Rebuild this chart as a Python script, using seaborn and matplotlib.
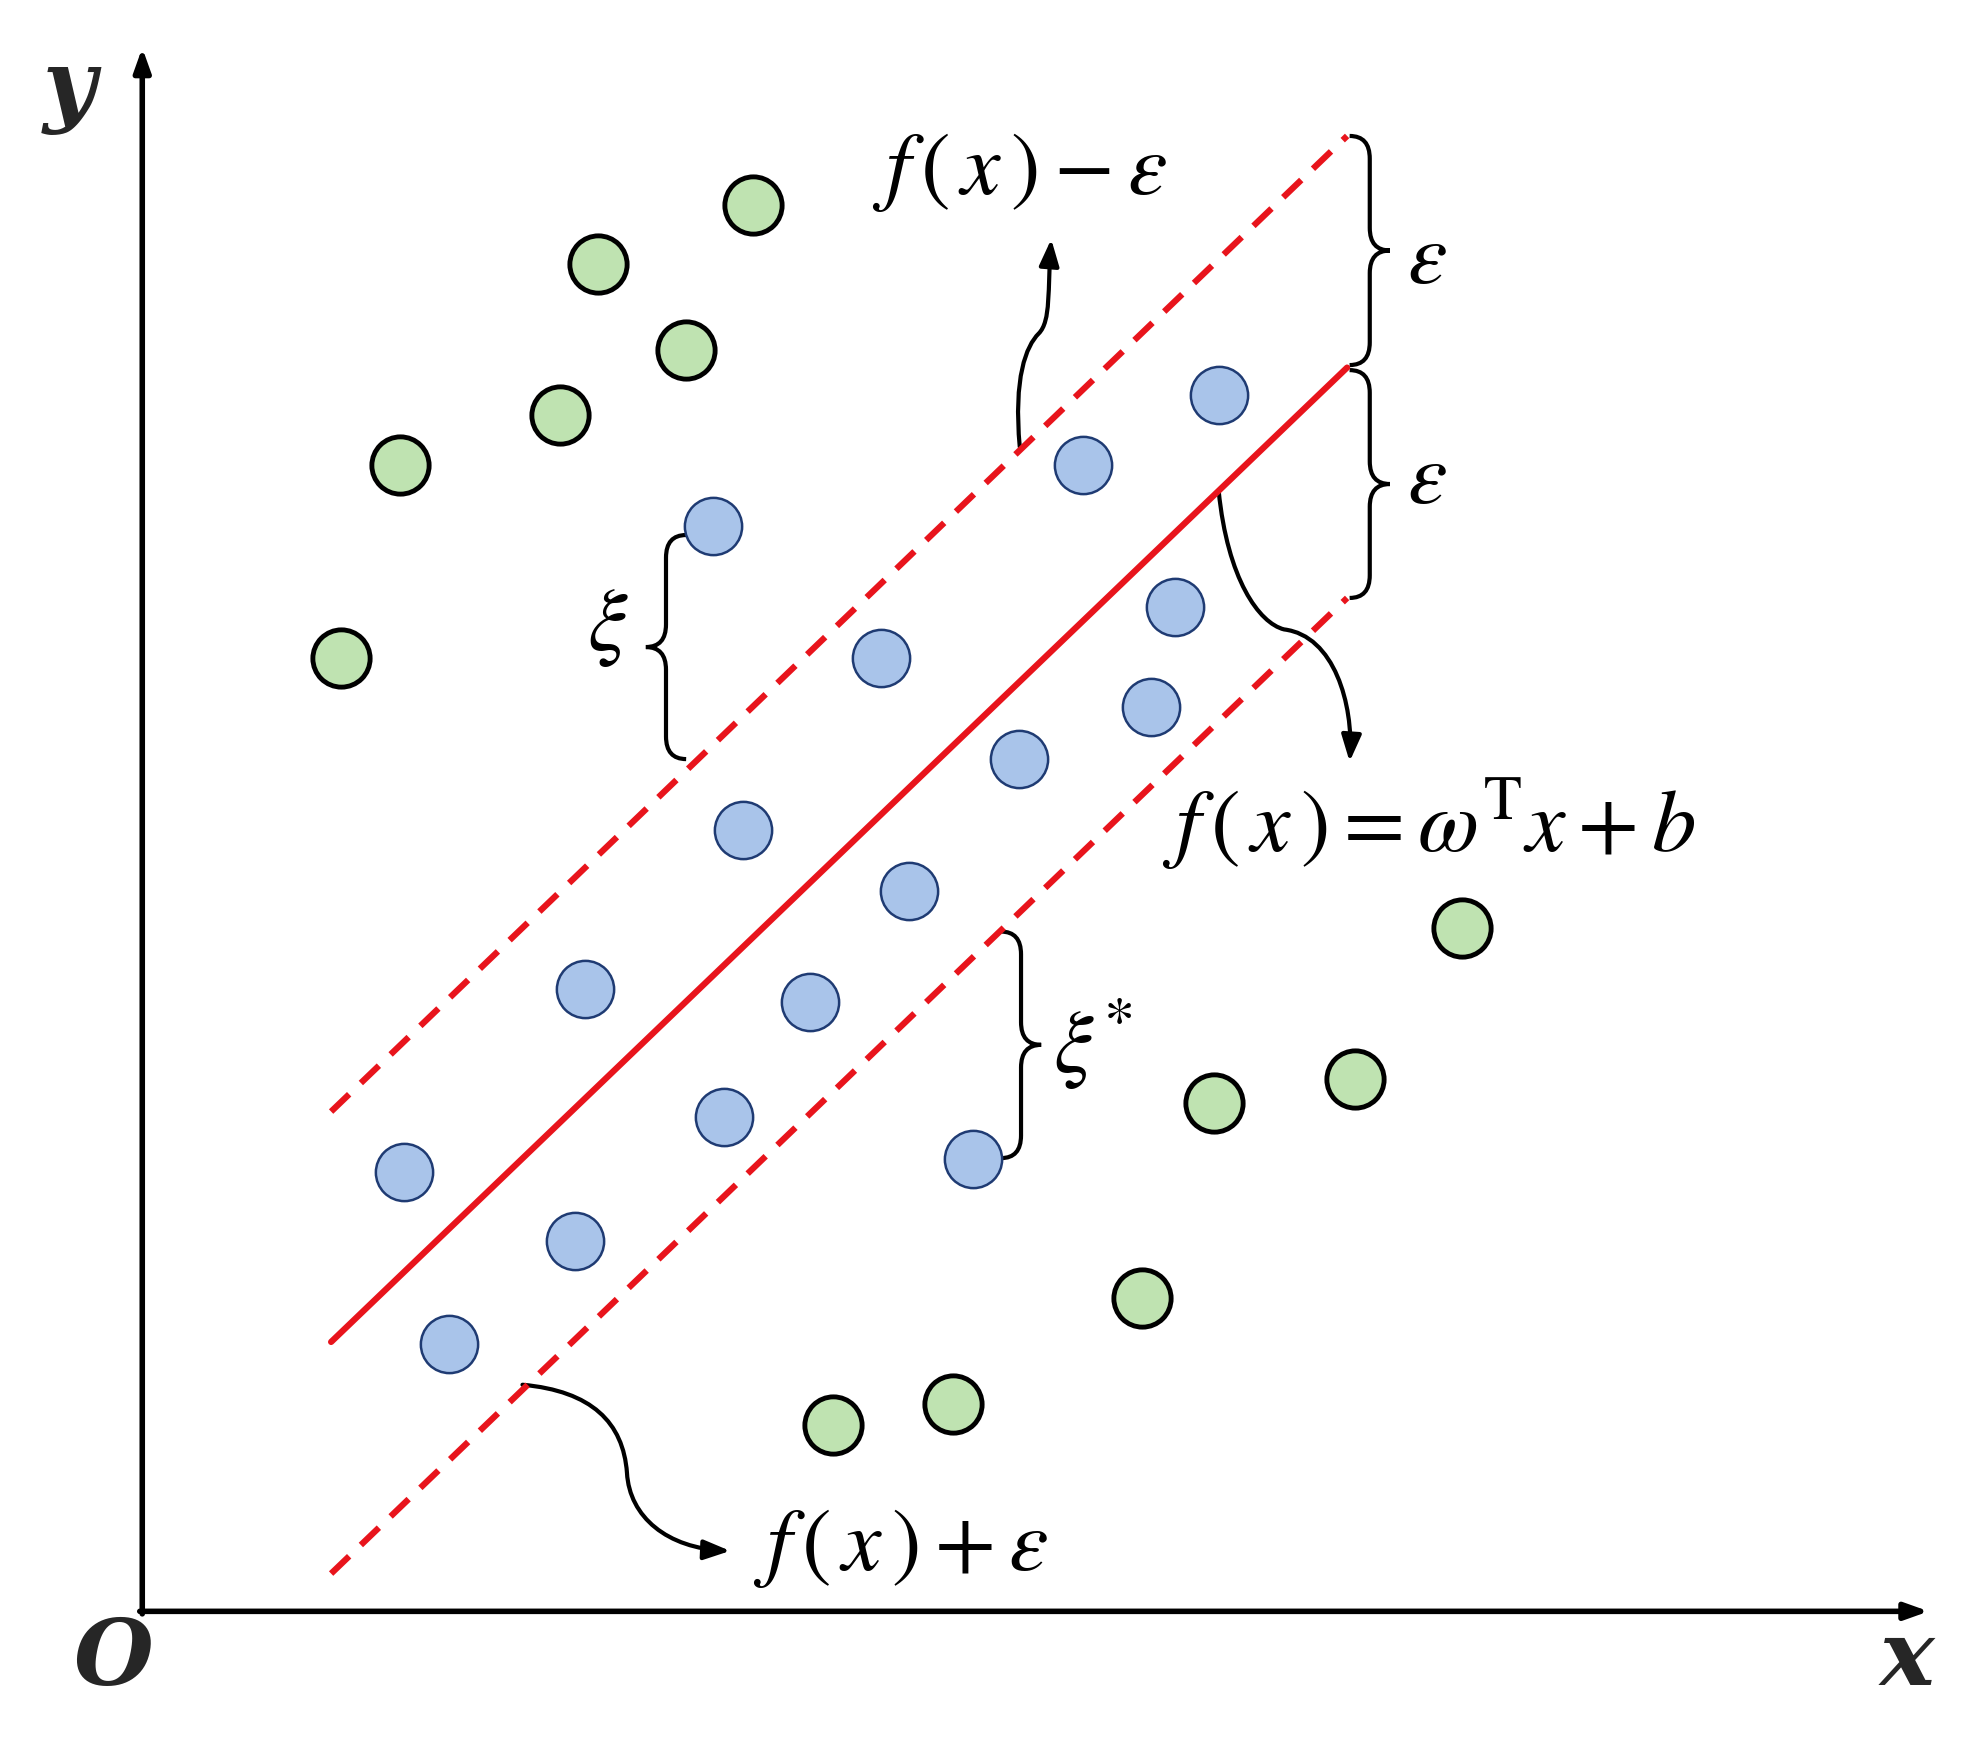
import matplotlib
matplotlib.use("Agg")
import matplotlib.pyplot as plt
import seaborn as sns
import pandas as pd
from matplotlib.path import Path
from matplotlib.patches import FancyArrowPatch, PathPatch

sns.set_style("white")
plt.rcParams['mathtext.fontset'] = 'stix'
plt.rcParams['font.family'] = ['DejaVu Serif']

green_x = [598, 475, 545, 445, 318, 271, 1161, 1076, 964, 907, 757, 662]
green_y = [163, 210, 278, 330, 369, 523, 737, 857, 876, 1031, 1115, 1132]
blue_x = [968, 860, 566, 700, 933, 914, 809, 590, 722, 465, 643, 575, 321, 773, 457, 357]
blue_y = [314, 369, 418, 523, 482, 562, 603, 659, 708, 786, 796, 887, 931, 921, 986, 1068]

line_x = [263, 1070]
mid_y = [1066, 292]
upper_y = [883, 108]
lower_y = [1250, 475]

fig = plt.figure(figsize=(19.64, 17.41), dpi=100)
ax = fig.add_axes([0, 0, 1, 1])

ax.plot(line_x, mid_y, color='#e8141c', lw=4.5)
ax.plot(line_x, upper_y, color='#e8141c', lw=4.5, dashes=(4, 2.6))
ax.plot(line_x, lower_y, color='#e8141c', lw=4.5, dashes=(4, 2.6))

dfg = pd.DataFrame({'x': green_x, 'y': green_y})
dfb = pd.DataFrame({'x': blue_x, 'y': blue_y})
sns.scatterplot(data=dfg, x='x', y='y', ax=ax, s=1700, color='#bfe3b1', edgecolor='black', linewidth=3.5, zorder=3)
sns.scatterplot(data=dfb, x='x', y='y', ax=ax, s=1700, color='#a9c4ea', edgecolor='#1f3b73', linewidth=1.8, zorder=3)
ax.set_xlim(0, 1560)
ax.set_ylim(1383, 0)
ax.axis('off')

ax.annotate('', xy=(113, 38), xytext=(113, 1282), arrowprops=dict(arrowstyle='-|>,head_length=1.4,head_width=0.5', lw=4, color='black', shrinkA=0, shrinkB=0))
ax.annotate('', xy=(1532, 1280), xytext=(111, 1280), arrowprops=dict(arrowstyle='-|>,head_length=1.4,head_width=0.5', lw=4, color='black', shrinkA=0, shrinkB=0))

def brace(x, y0, y1, d, r=18):
    ym = (y0 + y1) / 2
    h = d / 2
    verts = [(x, y0), (x + h, y0), (x + h, y0 + r),
             (x + h, ym - r),
             (x + h, ym), (x + d, ym),
             (x + h, ym), (x + h, ym + r),
             (x + h, y1 - r),
             (x + h, y1), (x, y1)]
    codes = [Path.MOVETO, Path.CURVE3, Path.CURVE3, Path.LINETO,
             Path.CURVE3, Path.CURVE3, Path.CURVE3, Path.CURVE3,
             Path.LINETO, Path.CURVE3, Path.CURVE3]
    ax.add_patch(PathPatch(Path(verts, codes), fill=False, lw=3, color='black'))

brace(1072, 108, 290, 32)
brace(1072, 294, 475, 32)
brace(545, 425, 603, -32)
brace(795, 740, 920, 32)

def curved_arrow(pts):
    codes = [Path.MOVETO] + [Path.CURVE4] * (len(pts) - 1)
    p = FancyArrowPatch(path=Path(pts, codes), arrowstyle='-|>,head_length=16,head_width=6', lw=3, color='black')
    ax.add_patch(p)

curved_arrow([(810, 355), (805, 300), (815, 275), (825, 265), (835, 255), (832, 230), (835, 190)])
curved_arrow([(968, 390), (975, 460), (1000, 495), (1020, 500), (1060, 505), (1075, 560), (1072, 605)])
curved_arrow([(415, 1100), (470, 1105), (495, 1130), (498, 1170), (500, 1205), (530, 1230), (580, 1232)])

tk = dict(fontsize=64, ha='center', va='center', color='black')
ax.text(810, 135, r'$f\,\left(\,x\,\right)-\varepsilon$', **tk)
ax.text(1135, 655, r'$f\,\left(\,x\,\right)=\omega^{\mathrm{T}}x+b$', **tk)
ax.text(715, 1228, r'$f\,\left(\,x\,\right)+\varepsilon$', **tk)
ax.text(1133, 205, r'$\varepsilon$', **tk)
ax.text(1133, 380, r'$\varepsilon$', **tk)
ax.text(483, 497, r'$\xi$', **tk)
ax.text(868, 830, r'$\xi^{*}$', **tk)
bk = dict(fontsize=66, ha='center', va='center', fontweight='bold', fontstyle='italic', family='DejaVu Serif')
ax.text(55, 72, 'y', **bk)
ax.text(90, 1318, 'O', **bk)
ax.text(1515, 1318, 'x', **bk)

fig.savefig('out.png', dpi=100, facecolor='white')
